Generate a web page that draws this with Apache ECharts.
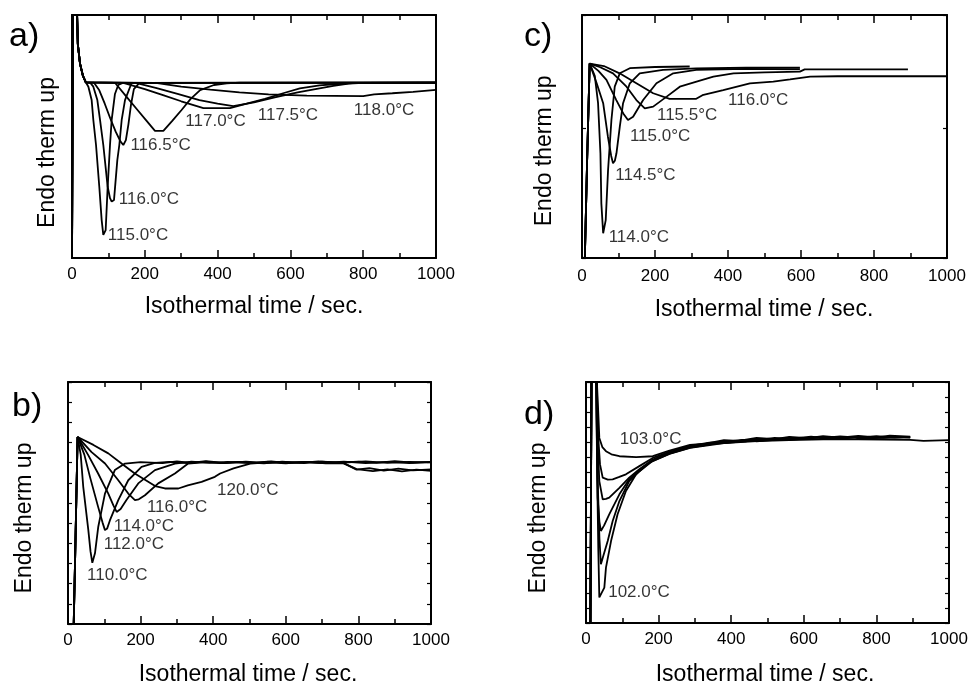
<!DOCTYPE html>
<html>
<head>
<meta charset="utf-8">
<script src="https://cdn.jsdelivr.net/npm/echarts@6/dist/echarts.min.js"></script>
<style>
html,body{margin:0;padding:0;background:#fff;}
#chart{width:971px;height:684px;}
</style>
</head>
<body>
<div id="chart"></div>
<script>
// ---------------- DATA (time in s, signal in arbitrary units 0..100 of panel height) ----------------
const xTickLabels = [0, 200, 400, 600, 800, 1000];

// Panel a)
const aStart = [[0,-5],[3,130],[12,130],[14,100],[16,88],[22,80],[30,75],[38,72.3]];
const a115 = [[45,70.5],[54,65],[58.6,56.8],[66,46.5],[75,29.3],[81.5,15.6],[86,9.5],[92.5,11.5],[98,29.3],[104.4,46.5],[109,56.8],[118,67.5],[127,71.2],[141,72.1],[1000,72.2]];
const a116 = [[49.5,72.2],[58.6,70.5],[69.6,65],[77,56.8],[86,46.5],[98,29.3],[104.4,24.6],[109,23.2],[115.4,23.9],[124.5,40.3],[130,46.5],[136.5,56.8],[145.6,65],[164,72.1],[1000,72.2]];
const a1165 = [[60,72.2],[75,69],[90,63.5],[105,57.5],[120,52],[133,48],[141,46.5],[148,48.5],[155,55],[162,63],[170,69.5],[185,72.1],[1000,72.2]];
const a117 = [[118,72.1],[150,66.3],[180,60.9],[205,56.4],[228,52.3],[251,52.3],[276,56.5],[301,60.9],[326,65.5],[352,69.1],[390,71.2],[425,71.9],[460,72.2],[1000,72.2]];
const a1175 = [[141,72.1],[200,69.5],[250,67],[300,64.5],[361,61.7],[434,61.7],[480,63.5],[530,65.5],[580,67.8],[626,69.8],[680,71],[720,71.5],[780,72.1],[1000,72.2]];
const a1175b = [[175,72.1],[230,70],[290,67.5],[350,65],[400,63.5],[443,62.5],[500,64],[560,66.2],[620,68.2],[680,69.8],[718,70.8],[760,71.8],[800,72.1],[1000,72.2]];
const a118 = [[230,72.1],[300,70.5],[380,69.3],[460,68.2],[540,67.3],[645,66.8],[720,66.7],[800,66.6],[830,67.3],[880,67.8],[937,68.4],[1000,69.2]];
const aLabels = [[97,9.5,'115.0°C'],[127,24.2,'116.0°C'],[159,46.2,'116.5°C'],[310,56.4,'117.0°C'],[509,58.8,'117.5°C'],[773,60.6,'118.0°C']];

// Panel b)
const bStart = [[15,-5],[20,30],[26.4,77.3],[29,77.6]];
const b110 = [[35,70],[42,56.7],[56,38.8],[62,30],[67,25.3],[70,25.5],[74.3,29.2],[83.4,40.2],[101.8,53.9],[129,63.6],[157,66.3],[200,66.9],[260,66.5],[300,67.2],[340,66.6],[380,67.1],[420,66.5],[470,67],[520,66.6],[560,67.2],[600,66.6],[650,67],[700,66.5],[758,66.6],[795,63.8],[830,64.4],[870,63.4],[910,64.2],[950,63.5],[1000,63.9]];
const b112 = [[45,70],[60.5,60.8],[83,48.4],[95,42],[101.8,38.8],[108,39.5],[115.6,42.9],[138.5,51.2],[166,59.4],[202.6,64.9],[239,66.6],[280,67],[330,66.5],[380,67.3],[430,66.6],[480,66.9],[540,66.4],[590,67.1],[640,66.6],[690,67.2],[740,66.7],[800,67.1],[850,66.6],[900,67.3],[950,66.7],[1000,67]];
const b114 = [[55,70],[83,62.2],[111,53.9],[125,49],[134,46.3],[145,47.5],[161,51.2],[193.5,58.1],[239.5,63.6],[294.5,66.3],[340,67.1],[390,66.6],[440,67],[500,66.5],[550,67.1],[610,66.6],[660,67],[710,66.4],[758,66.5],[795,64],[840,63.2],[880,63.9],[920,63.1],[960,63.8],[1000,63.3]];
const b116 = [[65,71],[102,66.3],[138.5,59.4],[166,53.9],[184.4,51.2],[195,51.5],[212,53.2],[248.6,58.1],[294.5,62.2],[331,66.3],[380,66.9],[430,66.5],[490,67.1],[540,66.6],[600,67],[650,66.5],[700,67.1],[760,66.7],[820,67.2],[880,66.6],[940,67],[1000,66.8]];
const b120 = [[70,74],[111,70.5],[150,66],[184,62.2],[240,57],[267,56],[304,56],[330,57.3],[368,58.7],[404.6,60.8],[419,62.2],[456,64.3],[502,66.3],[550,66.8],[600,66.4],[650,67],[700,66.6],[760,67.1],[820,66.5],[880,67],[940,66.5],[1000,66.9]];
const bLabels = [[51.3,20.2,'110.0°C'],[97,32.9,'112.0°C'],[124.7,40.4,'114.0°C'],[216,48.4,'116.0°C'],[409,55.3,'120.0°C']];

// Panel c)
const cStart = [[7,-5],[14,40],[21,80],[26,80.8]];
const c114 = [[35,75],[44,63.7],[50.5,43.1],[53,22.5],[58,10.2],[61,10.5],[65,15.6],[71.4,36.2],[80.6,56.8],[89.7,70.5],[103.5,76],[131,78.1],[200,78.6],[295,78.8]];
const c1145 = [[40,72],[58,63.7],[71,49.9],[80,42],[85,39],[90,40],[94.4,43.1],[103.5,54],[112.5,63.7],[131,71.9],[158,76],[222,77.4],[313,78],[450,78.3],[597,78.3]];
const c115 = [[45,77],[67,73.3],[94,65],[113,59.5],[126,56.8],[140,58.1],[167.5,65],[204,71.9],[250,76],[313,77.4],[450,77.8],[597,77.6]];
const c1155 = [[50,78.5],[85,76],[122,70.5],[149,65],[172,61.6],[195,62.3],[232,66.4],[268,70.5],[323,73],[360,74.6],[415,76],[500,76.4],[597,76.7],[610,77.6],[893,77.6]];
const c116 = [[60,79],[103,76],[149,71.9],[195,67.8],[240,65.5],[313,65.5],[330,67],[387,69.1],[460,71.9],[524,72.6],[570,73.5],[625,74.6],[700,74.8],[1000,74.8]];
const cLabels = [[71.6,8.5,'114.0°C'],[89.7,34.2,'114.5°C'],[129.8,50.2,'115.0°C'],[204,58.8,'115.5°C'],[398.7,65,'116.0°C']];

// Panel d)
const dStart = [[12,-5],[16,130],[24,130]];
const d103 = [[30,100],[33,90],[36.7,76.8],[45,73],[55,71.3],[70,70],[92,69.2],[138,68.8],[184,69.2],[230,71.5],[286.5,73.9],[330,74.4],[380,75.9],[420,75.6],[470,76.8],[520,76.3],[560,77.2],[610,76.7],[653,77.5],[700,76.9],[750,77.6],[800,77],[837,77.7],[893,77.3]];
const d2 = [[30,100],[32,81],[38.6,65.8],[46,60.3],[60,59.5],[73.5,59.6],[90,60.5],[110,61.7],[147,65.1],[184,68.5],[230,71],[286.5,73.5],[340,74.8],[380,75.1],[430,76],[470,75.9],[520,76.8],[560,76.4],[620,77.3],[653,76.8],[700,77.4],[750,76.9],[800,77.5],[850,76.9],[893,77.1]];
const d3 = [[29,100],[32,75],[36.7,58.9],[46,51.3],[55,51.5],[64,52],[92,56.1],[119,60.3],[147,63.8],[184,67.8],[230,70.7],[286.5,73.2],[320,73.6],[380,75.5],[440,75.4],[470,76.3],[530,76.1],[560,76.9],[600,76.4],[653,77.2],[720,76.7],[750,77.3],[820,76.8],[893,77.2]];
const d4 = [[28,100],[32,52],[37,42],[41,38.2],[50,40.5],[64,45.1],[92,53.4],[119,59.6],[147,63.5],[184,67.5],[230,70.5],[286.5,73],[350,74.3],[380,74.8],[450,75.8],[470,75.6],[540,76.5],[560,76.2],[653,77],[680,76.5],[750,77.1],[780,76.6],[850,77.2],[893,77]];
const d5 = [[28,100],[32,60],[37,35],[41,24.4],[48,28],[60,34.1],[73.5,42.3],[92,50.6],[119,58.9],[147,63],[184,67.3],[230,70.3],[286.5,72.8],[360,74.5],[380,74.6],[460,75.7],[470,75.4],[550,76.4],[560,76],[640,76.9],[653,76.4],[740,77],[750,76.6],[860,77.1],[893,76.9]];
const d102 = [[28,100],[31,60],[34,30],[36.7,10.6],[42,10.8],[50.5,14.7],[55,23],[69,34],[87,45.1],[110,54.8],[138,61.7],[174,66.5],[230,70.2],[286.5,72.7],[380,74.6],[470,75.5],[560,75.9],[653,76.2],[750,76.2],[893,76],[930,75.6],[1000,75.9]];
const dLabels = [[91.7,76.2,'103.0°C'],[59.8,12.7,'102.0°C']];

// ---------------- LAYOUT ----------------
const FONT = '"Liberation Sans", Arial, Helvetica, sans-serif';
const grids = [
  {left:72, top:15, width:364, height:243},   // a
  {left:68, top:382, width:363, height:242},  // b
  {left:582, top:15, width:365, height:243},  // c
  {left:586, top:382, width:363, height:241}  // d
];
const yTickInterval = [null, 100/12, 53.4, 6.25];
const labelMargin = [8, 8, 10, 8];

const xAxes = [], yAxes = [];
grids.forEach((g, i) => {
  const base = {
    type:'value', gridIndex:i, min:0, max:1000, interval:200,
    axisLine:{show:true, onZero:false, lineStyle:{color:'#000', width:2}},
    axisTick:{show:true, inside:true, length:8, lineStyle:{color:'#000', width:1.5}},
    minorTick:{show:true, splitNumber:2, length:5, lineStyle:{color:'#000', width:1.5}},
    splitLine:{show:false}, minorSplitLine:{show:false}
  };
  xAxes.push(Object.assign({}, base, {position:'bottom',
    axisLabel:{show:true, margin:labelMargin[i], color:'#000', fontSize:17, fontFamily:FONT,
      formatter: v => xTickLabels.includes(v) ? String(v) : ''}}));
  xAxes.push(Object.assign({}, base, {position:'top', axisLabel:{show:false}}));
  const yb = {
    type:'value', gridIndex:i, min:0, max:100,
    axisLine:{show:true, onZero:false, lineStyle:{color:'#000', width:2}},
    axisTick:{show: yTickInterval[i] !== null, inside:true, length:4, lineStyle:{color:'#000', width:1.2}},
    axisLabel:{show:false}, splitLine:{show:false}
  };
  if (yTickInterval[i] !== null) yb.interval = yTickInterval[i];
  yAxes.push(Object.assign({}, yb, {position:'left'}));
  yAxes.push(Object.assign({}, yb, {position:'right'}));
});

const series = [];
function addLine(gi, start, pts) {
  series.push({type:'line', xAxisIndex:2*gi, yAxisIndex:2*gi, data:start.concat(pts),
    symbol:'none', clip:true, lineStyle:{color:'#000', width:1.8}, silent:true});
}
function addLabels(gi, labs) {
  series.push({type:'scatter', xAxisIndex:2*gi, yAxisIndex:2*gi, data:labs, symbolSize:1,
    itemStyle:{color:'rgba(0,0,0,0)'}, silent:true,
    label:{show:true, position:'right', distance:0, formatter:p => p.data[2],
      color:'#000', fontSize:17, fontFamily:FONT}});
}
[a115,a116,a1165,a117,a1175,a1175b,a118].forEach(s => addLine(0, aStart, s));
addLabels(0, aLabels);
[b110,b112,b114,b116,b120].forEach(s => addLine(1, bStart, s));
addLabels(1, bLabels);
[c114,c1145,c115,c1155,c116].forEach(s => addLine(2, cStart, s));
addLabels(2, cLabels);
[d103,d2,d3,d4,d5,d102].forEach(s => addLine(3, dStart, s));
addLabels(3, dLabels);

function txt(text, x, y, size, align, rot) {
  return {type:'text', x:x, y:y, rotation:rot||0, silent:true,
    style:{text:text, fill:'#000', font: size + 'px ' + FONT,
      align:align, verticalAlign:'middle', textAlign:align, textVerticalAlign:'middle'}};
}
const graphics = [
  txt('a)', 9, 36.2, 34, 'left'), txt('c)', 524, 36.2, 34, 'left'),
  txt('b)', 12, 406.5, 34, 'left'), txt('d)', 524, 415, 34, 'left'),
  txt('Endo therm up', 47.6, 152.5, 23, 'center', Math.PI/2),
  txt('Endo therm up', 545, 150.8, 23, 'center', Math.PI/2),
  txt('Endo therm up', 25, 518, 23, 'center', Math.PI/2),
  txt('Endo therm up', 538.3, 518, 23, 'center', Math.PI/2),
  txt('Isothermal time / sec.', 254, 307, 23, 'center'),
  txt('Isothermal time / sec.', 764, 310, 23, 'center'),
  txt('Isothermal time / sec.', 248, 675, 23, 'center'),
  txt('Isothermal time / sec.', 765, 675, 23, 'center')
];

const chart = echarts.init(document.getElementById('chart'), null, {renderer:'canvas'});
chart.setOption({
  animation:false,
  backgroundColor:'#fff',
  grid: grids.map(g => Object.assign({containLabel:false}, g)),
  xAxis: xAxes, yAxis: yAxes, series: series, graphic: graphics
});
</script>
</body>
</html>
